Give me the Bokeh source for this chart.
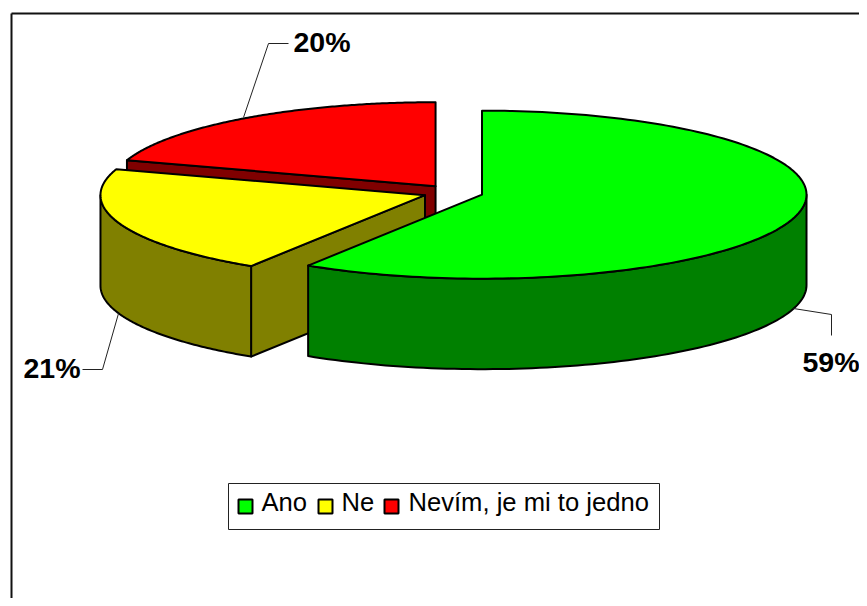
import numpy as np
from bokeh.core.properties import value
from bokeh.embed import file_html
from bokeh.models import Range1d
from bokeh.plotting import figure
from bokeh.resources import INLINE

categories = ["Ano", "Ne", "Nevím, je mi to jedno"]
shares = [59, 21, 20]
percent_labels = ["59%", "21%", "20%"]
top_colors = ["#00FF00", "#FFFF00", "#FF0000"]
side_colors = ["#008000", "#808000", "#800000"]

# Pie geometry, in picture pixels
CX, CY, RX, RY, DEPTH, EXPLODE = 452.7, 192, 324.5, 84, 90.5, 30
FONT = value("Liberation Sans")
W, H = 859, 598

p = figure(width=W, height=H, output_backend="svg", toolbar_location=None,
           x_range=Range1d(0, W), y_range=Range1d(H, 0),
           x_axis_type=None, y_axis_type=None, min_border=0,
           outline_line_color=None, background_fill_color="white",
           border_fill_color="white")
p.grid.visible = False

# Chart-area frame (only its left and top edges lie inside the page)
p.line([11, 11], [H, 13], line_color="#111111", line_width=2)
p.line([11, W], [13, 13], line_color="#111111", line_width=2)


def pt(cx, cy, deg):
    t = np.radians(deg)
    return cx + RX * np.sin(t), cy - RY * np.cos(t)


def poly(xs, ys, color):
    p.patch(list(xs), list(ys), fill_color=color, line_color="black",
            line_width=2, line_join="round")


total = sum(shares)
edges = np.cumsum([0] + shares) / total * 360
slices = []
for i in range(len(shares)):
    a, b = edges[i], edges[i + 1]
    mid = np.radians((a + b) / 2)
    cx = CX + EXPLODE * np.sin(mid)
    cy = CY - EXPLODE * RY / RX * np.cos(mid)
    slices.append((a, b, cx, cy, i))

# Painted back to front: last slice first
for a, b, cx, cy, i in reversed(slices):
    for deg, visible in ((a, np.sin(np.radians(a)) < -1e-6),
                         (b, np.sin(np.radians(b)) > 1e-6)):
        if visible:
            ex, ey = pt(cx, cy, deg)
            poly([cx, ex, ex, cx], [cy, ey, ey + DEPTH, cy + DEPTH], side_colors[i])
    lo, hi = max(a, 90), min(b, 270)
    if lo < hi:
        th = np.linspace(lo, hi, 90)
        xs, ys = pt(cx, cy, th)
        poly(np.r_[xs, xs[::-1]], np.r_[ys, ys[::-1] + DEPTH], side_colors[i])
    th = np.linspace(a, b, 160)
    xs, ys = pt(cx, cy, th)
    poly(np.r_[cx, xs], np.r_[cy, ys], top_colors[i])

# Leader lines
leaders = [([793, 831, 831], [308, 314, 335]),
           ([82, 102, 118], [369, 369, 313]),
           ([288, 268, 243], [43, 43, 117])]
for lx, ly in leaders:
    p.line(lx, ly, line_color="#222222", line_width=1)

# Percent labels
label_x = [802, 23, 293]
label_y = [361, 367, 41]
p.text(label_x, label_y, text=percent_labels, text_font=FONT, text_font_size="28.5px",
       text_font_style="bold", text_color="black", text_align="left",
       text_baseline="alphabetic")

# Legend
p.quad(left=[228], right=[659], top=[483], bottom=[529], fill_color="white",
       line_color="#222222", line_width=1)
swatch_x = [238, 318, 384]
text_x = [261, 341, 408]
p.quad(left=swatch_x, right=[x + 14 for x in swatch_x], top=[499] * 3, bottom=[513] * 3,
       fill_color=top_colors, line_color="black", line_width=2)
p.text(text_x, [501] * 3, text=categories, text_font=FONT, text_font_size="25.6px",
       text_color="black", text_align="left", text_baseline="alphabetic")

open("out.html", "w").write(file_html(p, INLINE))
